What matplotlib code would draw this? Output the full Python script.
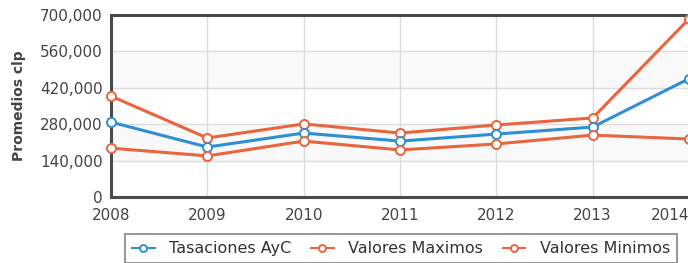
import numpy as np
import matplotlib
matplotlib.use("Agg")
import matplotlib.pyplot as plt

# data
years = [2008, 2009, 2010, 2011, 2012, 2013, 2014]
tasaciones = [288000, 192000, 246000, 215000, 242000, 269000, 455000]
maximos = [388000, 227000, 281000, 246000, 277000, 304000, 685000]
minimos = [188000, 158000, 215000, 181000, 204000, 238000, 223000]
yticks = [0, 140000, 280000, 420000, 560000, 700000]

blue = "#2f8fd3"
orange = "#e8653d"

fig = plt.figure(figsize=(6.88, 2.63), dpi=100)
ax = fig.add_axes([111 / 688, 1 - 197 / 263, 578 / 688, 182 / 263])

# faint alternating bands
for i in range(len(yticks) - 1):
    if i % 2 == 1:
        ax.axhspan(yticks[i], yticks[i + 1], color="#f9f9f9", zorder=0)

style = dict(lw=2.2, marker="o", ms=6.5, mfc="white", mew=1.4, clip_on=False, zorder=3)
ax.plot(years, maximos, color=orange, label="Valores Maximos", **style)
ax.plot(years, tasaciones, color=blue, label="Tasaciones AyC", **style)
ax.plot(years, minimos, color=orange, label="Valores Minimos", **style)

ax.set_xlim(2008, 2014)
ax.set_ylim(0, 700000)
ax.set_xticks(years)
ax.set_yticks(yticks)
ax.set_yticklabels([f"{v:,}" for v in yticks])
ax.grid(True, color="#dcdcdc", lw=1, zorder=1)
ax.set_axisbelow(True)
for s in ax.spines.values():
    s.set_color("#4a4a4a")
    s.set_linewidth(2.2)
ax.tick_params(length=0, labelsize=11, colors="#444444", pad=6)
ax.tick_params(axis="x", pad=8)
ax.get_xticklabels()[-1].set_ha("right")
ax.set_ylabel("Promedios clp", fontsize=10, fontweight="bold", color="#444444", labelpad=10)

handles, labels = ax.get_legend_handles_labels()
order = [1, 0, 2]
leg = fig.legend([handles[i] for i in order], [labels[i] for i in order],
                 loc="upper center", bbox_to_anchor=(401 / 688, 1 - 226 / 263),
                 ncol=3, fontsize=11.5, frameon=True, fancybox=False,
                 edgecolor="#666666", handlelength=1.4, columnspacing=1.25,
                 borderpad=0.45, handletextpad=0.9, labelcolor="#333333")
leg.get_frame().set_linewidth(1.2)
for h in leg.legend_handles:
    h.set_linewidth(1.5)
    h.set_markersize(5)

fig.savefig("out.png", dpi=100)
